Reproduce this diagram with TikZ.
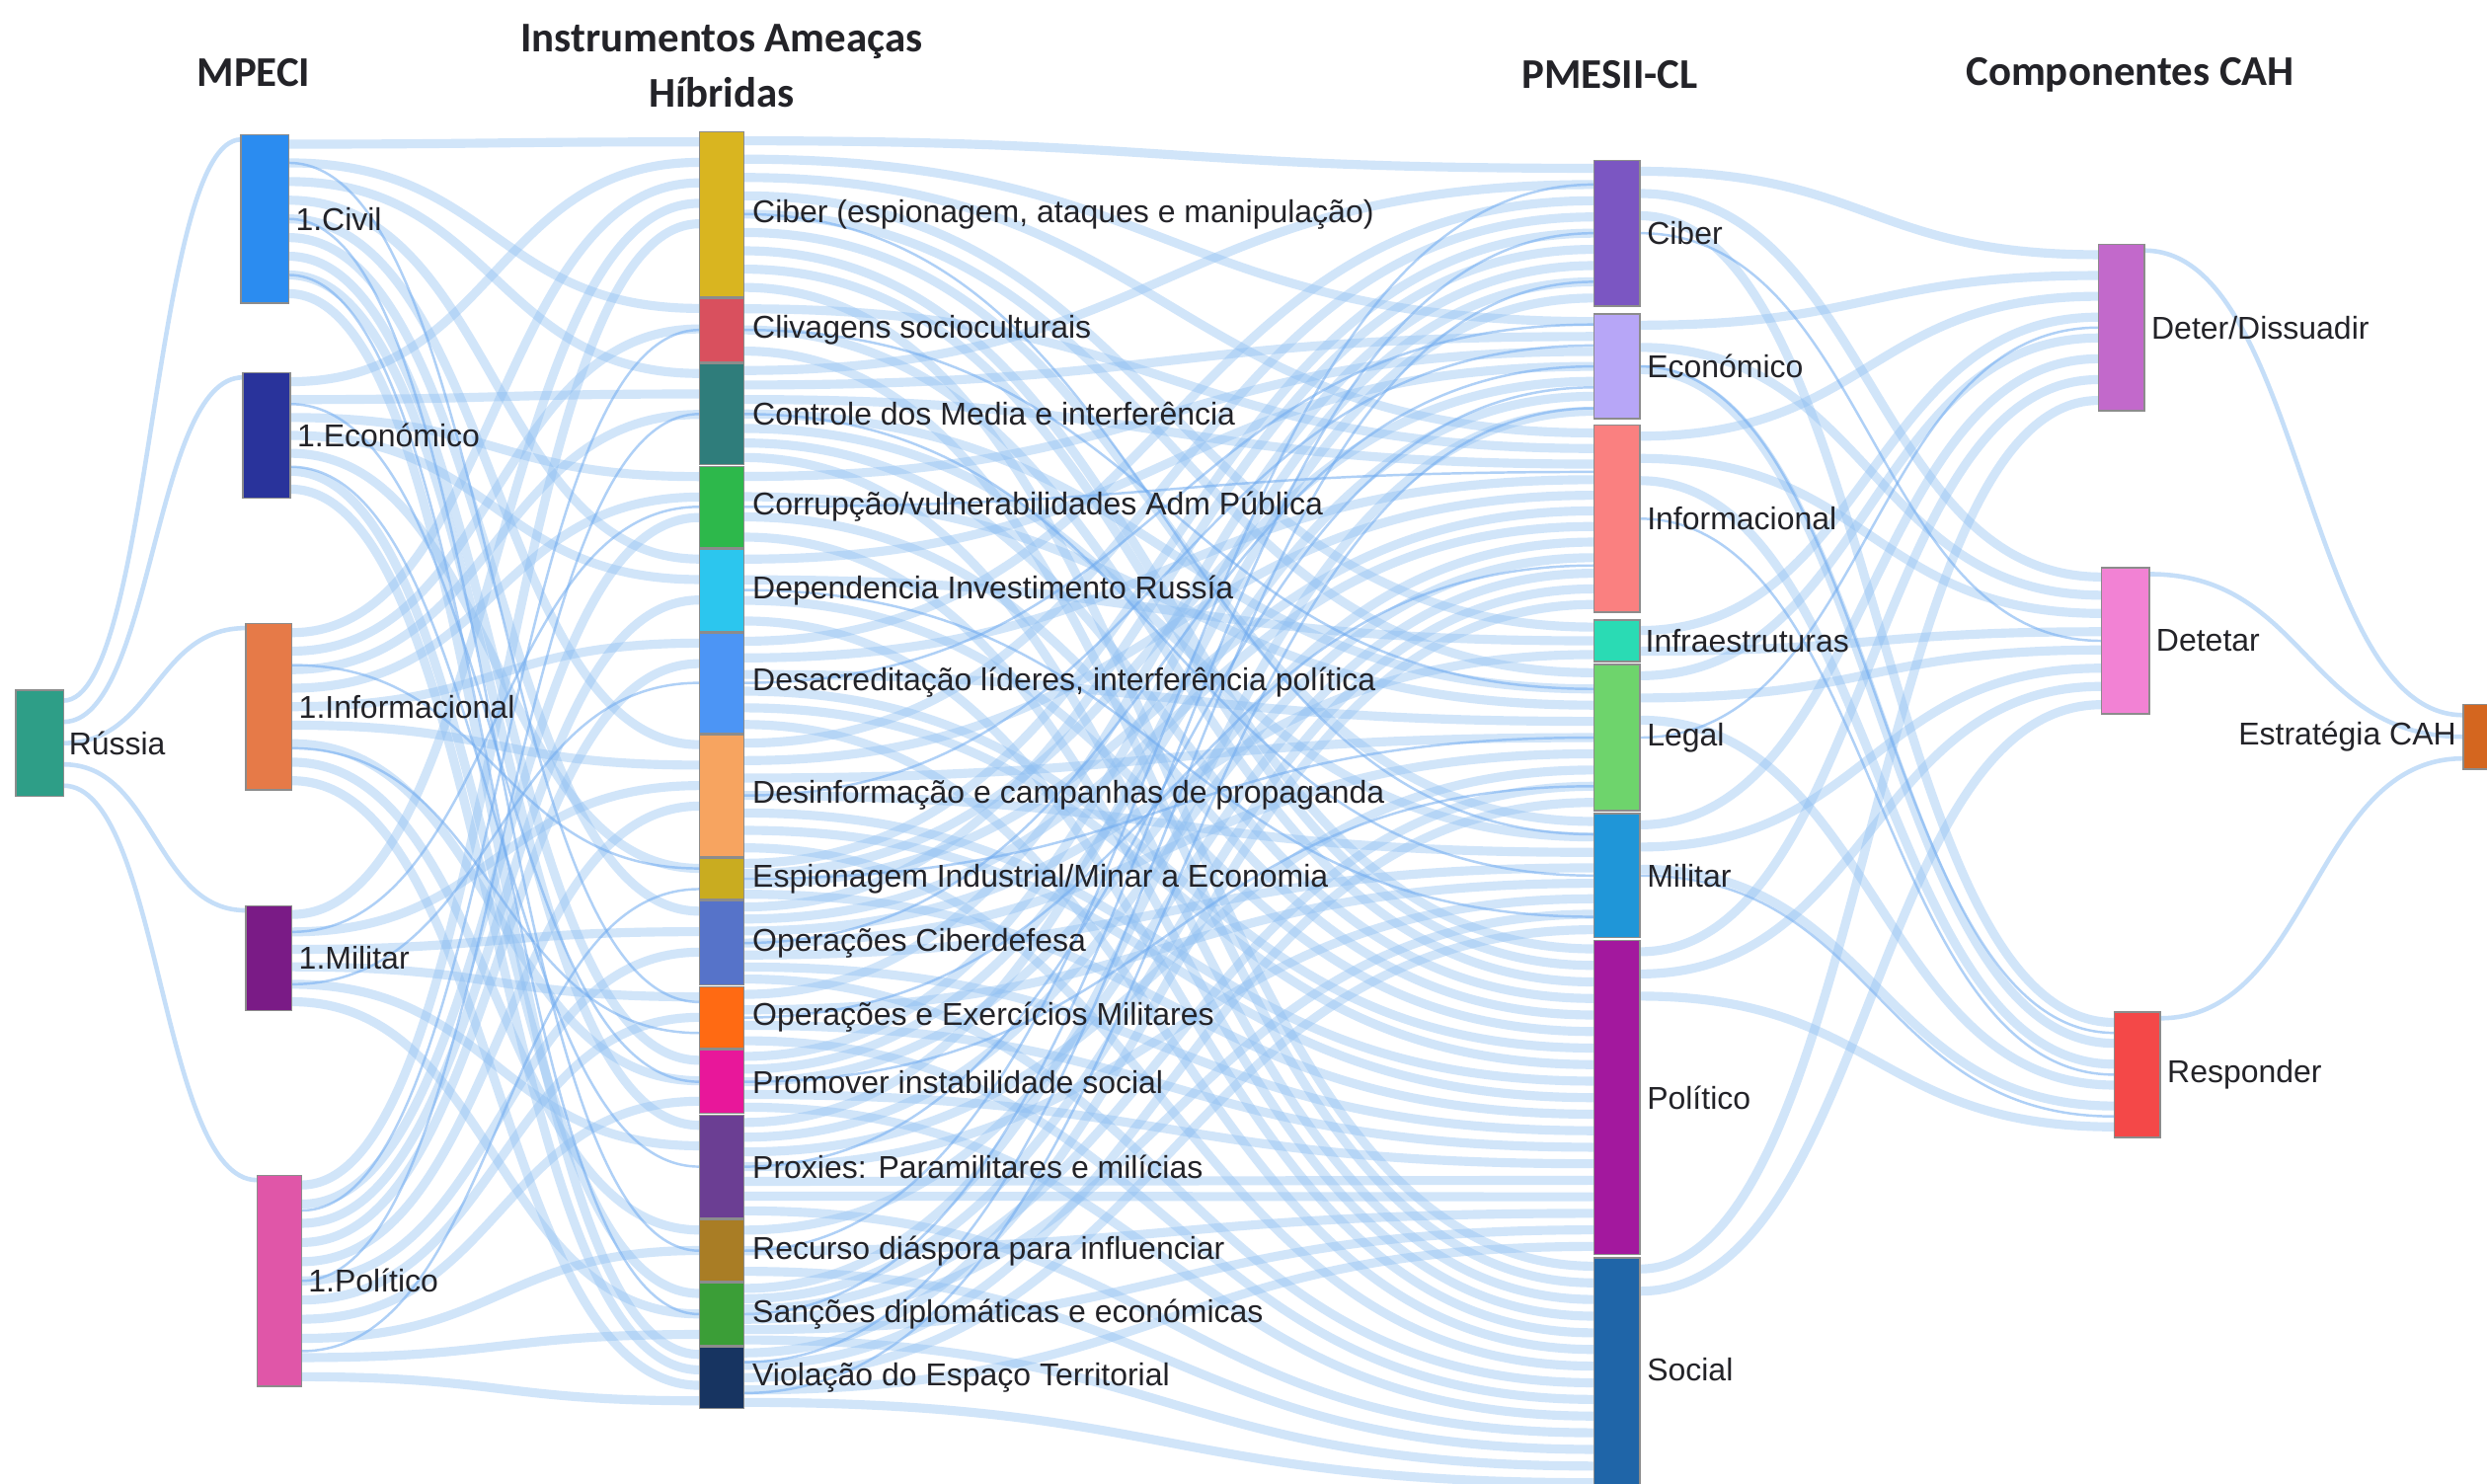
\documentclass[tikz,border=0pt]{standalone}
\usepackage{fontspec}
\setmainfont{Liberation Sans}
\newfontfamily\hdfont{Carlito}
\usetikzlibrary{calc}
\pgfdeclarelayer{back}
\pgfdeclarelayer{bg}
\pgfsetlayers{back,bg,main}

\definecolor{lkc}{RGB}{140,190,242}
\definecolor{lkd}{RGB}{110,170,240}
\definecolor{txt}{RGB}{35,35,40}
\definecolor{cRus}{HTML}{2E9E87}
\definecolor{cCiv}{HTML}{2B8CF0}
\definecolor{cEco}{HTML}{29339B}
\definecolor{cInf}{HTML}{E67A48}
\definecolor{cMil}{HTML}{7A1B86}
\definecolor{cPol}{HTML}{E056A8}
\definecolor{iCib}{HTML}{D9B520}
\definecolor{iCli}{HTML}{D9505E}
\definecolor{iCtr}{HTML}{2F7D7B}
\definecolor{iCor}{HTML}{2DB84B}
\definecolor{iDep}{HTML}{2CC6EE}
\definecolor{iDsa}{HTML}{4C95F5}
\definecolor{iDsi}{HTML}{F7A460}
\definecolor{iEsp}{HTML}{C9AC20}
\definecolor{iOpc}{HTML}{5673C9}
\definecolor{iOpm}{HTML}{FF6A13}
\definecolor{iPro}{HTML}{E8179A}
\definecolor{iPrx}{HTML}{6B3E93}
\definecolor{iRec}{HTML}{A97D25}
\definecolor{iSan}{HTML}{3B9E37}
\definecolor{iVio}{HTML}{173461}
\definecolor{pCib}{HTML}{7B56C2}
\definecolor{pEco}{HTML}{B7A6F7}
\definecolor{pInf}{HTML}{FA8080}
\definecolor{pIfr}{HTML}{2ADBB4}
\definecolor{pLeg}{HTML}{6ED46C}
\definecolor{pMil}{HTML}{1F96D8}
\definecolor{pPol}{HTML}{A3189E}
\definecolor{pSoc}{HTML}{1F65A8}
\definecolor{kDet}{HTML}{C269CB}
\definecolor{kDtt}{HTML}{F282D4}
\definecolor{kRes}{HTML}{F44848}
\definecolor{kEst}{HTML}{D4661F}

\newdimen\lkH
\newcommand\lkinc[1]{%
  \ifcsname #1\endcsname\else\expandafter\gdef\csname #1\endcsname{0}\fi
  \expandafter\xdef\csname #1\endcsname{\the\numexpr\csname #1\endcsname+1\relax}}

% #1 list src/tgt, #2 src pitch cap (pt), #3 tgt pitch cap (pt), #4 style, #5 counter prefix
\newcommand\lkstage[5]{%
  \foreach \sa/\ta in {#1}{\lkinc{#5N-\sa}\lkinc{#5M-\ta}}%
  \foreach \sa/\ta in {#1}{%
    \lkinc{#5n-\sa}\lkinc{#5m-\ta}%
    \edef\lkk{\csname #5n-\sa\endcsname}\edef\lkK{\csname #5N-\sa\endcsname}%
    \edef\lkj{\csname #5m-\ta\endcsname}\edef\lkJ{\csname #5M-\ta\endcsname}%
    \pgfextracty{\lkH}{\pgfpointdiff{\pgfpointanchor{\sa}{south}}{\pgfpointanchor{\sa}{north}}}%
    \pgfmathsetmacro\lkos{(\lkk-0.5)*min(#2,\lkH/\lkK)}%
    \pgfextracty{\lkH}{\pgfpointdiff{\pgfpointanchor{\ta}{south}}{\pgfpointanchor{\ta}{north}}}%
    \pgfmathsetmacro\lkot{(\lkj-0.5)*min(#3,\lkH/\lkJ)}%
    \coordinate (lkA) at ($(\sa.north east)+(0pt,-\lkos pt)$);
    \coordinate (lkB) at ($(\ta.north west)+(0pt,-\lkot pt)$);
    \draw[#4] (lkA) .. controls ($(lkA)!0.5!(lkB |- lkA)$) and ($(lkB)!0.5!(lkA |- lkB)$) .. (lkB);
  }%
}

\newcommand\snode[6]{%
  \node[nbar, fill=#2, minimum width={(#5-#3)*0.16065mm}, minimum height={(#6-#4)*0.16065mm}, anchor=north west] (#1) at (#3,#4) {};}

\begin{document}
\begin{tikzpicture}[x=0.16065mm,y=-0.16065mm,
  nbar/.style={draw=black!45, line width=0.4pt, inner sep=0pt, outer sep=0pt},
  lbl/.style={font=\fontsize{9.1}{11}\selectfont, text=txt, inner sep=0pt, anchor=west},
  hdr/.style={font=\hdfont\bfseries\fontsize{12.2}{16}\selectfont, text=txt, align=center, inner sep=0pt},
  lk/.style={draw=lkc, line width=2.6pt, opacity=0.4},
  lkfine/.style={draw=lkd, line width=0.7pt, opacity=0.55},
  lkthin/.style={draw=lkc, line width=1.3pt, opacity=0.5}]
\useasboundingbox (0,0) rectangle (1568,935);
\begin{pgfonlayer}{back}
\fill[white] (0,0) rectangle (1568,935);
\end{pgfonlayer}

% headers
\node[hdr] (h1) at (160,46) {MPECI};
\node[hdr] (h2) at (455,41.5) {Instrumentos Ameaças\\Híbridas};
\node[hdr] (h3) at (1015,47) {PMESII-CL};
\node[hdr] (h4) at (1343,47) {Componentes CAH};

% column 1
\snode{rus}{cRus}{10}{435}{40}{502}
% column 2
\snode{civ}{cCiv}{152}{85}{182}{191}
\snode{eco}{cEco}{153}{235}{183}{314}
\snode{inf}{cInf}{155}{393}{184}{498}
\snode{mil}{cMil}{155}{571}{184}{637}
\snode{pol}{cPol}{162}{741}{190}{874}
% column 3
\snode{cib}{iCib}{441}{83}{469}{187}
\snode{cli}{iCli}{441}{188}{469}{228}
\snode{ctr}{iCtr}{441}{229}{469}{293}
\snode{cor}{iCor}{441}{294}{469}{345}
\snode{dep}{iDep}{441}{346}{469}{398}
\snode{dsa}{iDsa}{441}{399}{469}{462}
\snode{dsi}{iDsi}{441}{463}{469}{540}
\snode{esp}{iEsp}{441}{541}{469}{567}
\snode{opc}{iOpc}{441}{568}{469}{621}
\snode{opm}{iOpm}{441}{622}{469}{661}
\snode{pro}{iPro}{441}{662}{469}{702}
\snode{prx}{iPrx}{441}{703}{469}{768}
\snode{rec}{iRec}{441}{769}{469}{808}
\snode{san}{iSan}{441}{809}{469}{848}
\snode{vio}{iVio}{441}{849}{469}{888}
% column 4
\snode{pcib}{pCib}{1005}{101}{1034}{193}
\snode{peco}{pEco}{1005}{198}{1034}{264}
\snode{pinf}{pInf}{1005}{268}{1034}{386}
\snode{pinfra}{pIfr}{1005}{391}{1034}{417}
\snode{pleg}{pLeg}{1005}{419}{1034}{511}
\snode{pmil}{pMil}{1005}{513}{1034}{591}
\snode{ppol}{pPol}{1005}{593}{1034}{791}
\snode{psoc}{pSoc}{1005}{793}{1034}{940}
% column 5
\snode{deter}{kDet}{1323}{154}{1352}{259}
\snode{detet}{kDtt}{1325}{358}{1355}{450}
\snode{resp}{kRes}{1333}{638}{1362}{717}
% column 6
\snode{est}{kEst}{1553}{444}{1583}{485}

% labels
\node[lbl] (l-rus) at ($(rus.east)+(3,0)$) {Rússia};
\node[lbl] (l-civ) at ($(civ.east)+(4,0)$) {1.Civil};
\node[lbl] (l-eco) at ($(eco.east)+(4,0)$) {1.Económico};
\node[lbl] (l-inf) at ($(inf.east)+(4,0)$) {1.Informacional};
\node[lbl] (l-mil) at ($(mil.east)+(4,0)$) {1.Militar};
\node[lbl] (l-pol) at ($(pol.east)+(4,0)$) {1.Político};
\node[lbl] (l-cib) at ($(cib.east)+(5,0)$) {Ciber (espionagem, ataques e manipulação)};
\node[lbl] (l-cli) at ($(cli.east)+(5,0)$) {Clivagens socioculturais};
\node[lbl] (l-ctr) at ($(ctr.east)+(5,0)$) {Controle dos Media e interferência};
\node[lbl] (l-cor) at ($(cor.east)+(5,0)$) {Corrupção/vulnerabilidades Adm Pública};
\node[lbl] (l-dep) at ($(dep.east)+(5,0)$) {Dependencia Investimento Russía};
\node[lbl] (l-dsa) at ($(dsa.east)+(5,0)$) {Desacreditação líderes, interferência política};
\node[lbl] (l-dsi) at ($(dsi.east)+(5,0)$) {Desinformação e campanhas de propaganda};
\node[lbl] (l-esp) at ($(esp.east)+(5,0)$) {Espionagem Industrial/Minar a Economia};
\node[lbl] (l-opc) at ($(opc.east)+(5,0)$) {Operações Ciberdefesa};
\node[lbl] (l-opm) at ($(opm.east)+(5,0)$) {Operações e Exercícios Militares};
\node[lbl] (l-pro) at ($(pro.east)+(5,0)$) {Promover instabilidade social};
\node[lbl] (l-prx) at ($(prx.east)+(5,0)$) {Proxies: Paramilitares e milícias};
\node[lbl] (l-rec) at ($(rec.east)+(5,0)$) {Recurso diáspora para influenciar};
\node[lbl] (l-san) at ($(san.east)+(5,0)$) {Sanções diplomáticas e económicas};
\node[lbl] (l-vio) at ($(vio.east)+(5,0)$) {Violação do Espaço Territorial};
\node[lbl] (l-pcib) at ($(pcib.east)+(4,0)$) {Ciber};
\node[lbl] (l-peco) at ($(peco.east)+(4,0)$) {Económico};
\node[lbl] (l-pinf) at ($(pinf.east)+(4,0)$) {Informacional};
\node[lbl] (l-pinfra) at ($(pinfra.east)+(3,0)$) {Infraestruturas};
\node[lbl] (l-pleg) at ($(pleg.east)+(4,0)$) {Legal};
\node[lbl] (l-pmil) at ($(pmil.east)+(4,0)$) {Militar};
\node[lbl] (l-ppol) at ($(ppol.east)+(4,0)$) {Político};
\node[lbl] (l-psoc) at ($(psoc.east)+(4,-3)$) {Social};
\node[lbl] (l-deter) at ($(deter.east)+(4,0)$) {Deter/Dissuadir};
\node[lbl] (l-detet) at ($(detet.east)+(4,0)$) {Detetar};
\node[lbl] (l-resp) at ($(resp.east)+(4,0)$) {Responder};
\node[lbl, anchor=east] (l-est) at ($(est.west)+(-4,0)$) {Estratégia CAH};

\begin{pgfonlayer}{bg}
% Russia -> MPECI
\lkstage{rus/civ,rus/eco,rus/inf,rus/mil,rus/pol}{1000}{2.7}{lkthin}{a}
% MPECI -> instruments
\lkstage{civ/cib,civ/cli,civ/ctr,civ/dep,civ/dsi,civ/opc,civ/pro,civ/prx,civ/vio,
 eco/cib,eco/ctr,eco/cor,eco/dep,eco/esp,eco/san,eco/vio,
 inf/cib,inf/cli,inf/ctr,inf/cor,inf/dsa,inf/dsi,inf/pro,inf/rec,inf/vio,
 mil/cib,mil/dsi,mil/opc,mil/opm,mil/prx,mil/san,
 pol/cib,pol/cor,pol/dep,pol/dsa,pol/dsi,pol/opc,pol/opm,pol/pro,pol/rec,pol/san,pol/vio}{1000}{5.9}{lk}{b}
\lkstage{civ/opm,civ/rec,civ/san,eco/pro,eco/prx,inf/esp,inf/opm,mil/cor,mil/dsa,
 pol/cli,pol/ctr,pol/esp}{1000}{1000}{lkfine}{bb}
% instruments -> PMESII
\lkstage{cib/pcib,cib/peco,cib/pinf,cib/pinfra,cib/pleg,cib/pmil,cib/ppol,cib/ppol,cib/psoc,
 cli/pinf,cli/ppol,cli/psoc,
 ctr/pcib,ctr/peco,ctr/pinf,ctr/pleg,ctr/pmil,ctr/ppol,ctr/psoc,
 cor/peco,cor/pleg,cor/ppol,cor/psoc,
 dep/peco,dep/pinfra,dep/ppol,dep/psoc,
 dsa/pcib,dsa/pinf,dsa/pleg,dsa/ppol,dsa/ppol,dsa/psoc,
 dsi/pcib,dsi/pinf,dsi/pleg,dsi/pmil,dsi/ppol,dsi/ppol,dsi/psoc,
 esp/pcib,esp/peco,esp/pinf,esp/ppol,
 opc/pcib,opc/pinf,opc/pinfra,opc/pleg,opc/pmil,opc/ppol,opc/psoc,
 opm/pcib,opm/pmil,opm/ppol,opm/psoc,
 pro/pcib,pro/peco,pro/pinf,pro/ppol,pro/psoc,
 prx/pcib,prx/pinf,prx/pleg,prx/pmil,prx/ppol,prx/ppol,prx/psoc,
 rec/pinf,rec/ppol,rec/psoc,
 san/peco,san/pinf,san/pleg,san/pmil,san/ppol,san/psoc,
 vio/pinf,vio/pleg,vio/pmil,vio/ppol,vio/psoc}{1000}{1000}{lk}{c}
\lkstage{cib/pmil,cli/pleg,ctr/pmil,cor/pinf,dep/pmil,dsa/peco,dsi/peco,esp/pleg,
 opc/peco,opm/pinf,pro/pleg,prx/peco,rec/pcib,san/pcib,vio/pcib,vio/peco}{1000}{1000}{lkfine}{cc}
% PMESII -> components
\lkstage{pcib/deter,pcib/detet,pcib/resp,
 peco/deter,peco/detet,peco/resp,
 pinf/deter,pinf/detet,pinf/resp,
 pinfra/deter,pinfra/detet,
 pleg/deter,pleg/detet,pleg/resp,
 pmil/deter,pmil/detet,pmil/resp,
 ppol/deter,ppol/detet,ppol/resp,
 psoc/deter,psoc/detet}{6.4}{1000}{lk}{d}
\lkstage{pcib/detet,peco/resp,pinf/resp,pleg/deter,pmil/resp}{1000}{1000}{lkfine}{dd}
% components -> strategy
\lkstage{deter/est,detet/est,resp/est}{3.6}{1000}{lkthin}{e}
\end{pgfonlayer}
\end{tikzpicture}
\end{document}
